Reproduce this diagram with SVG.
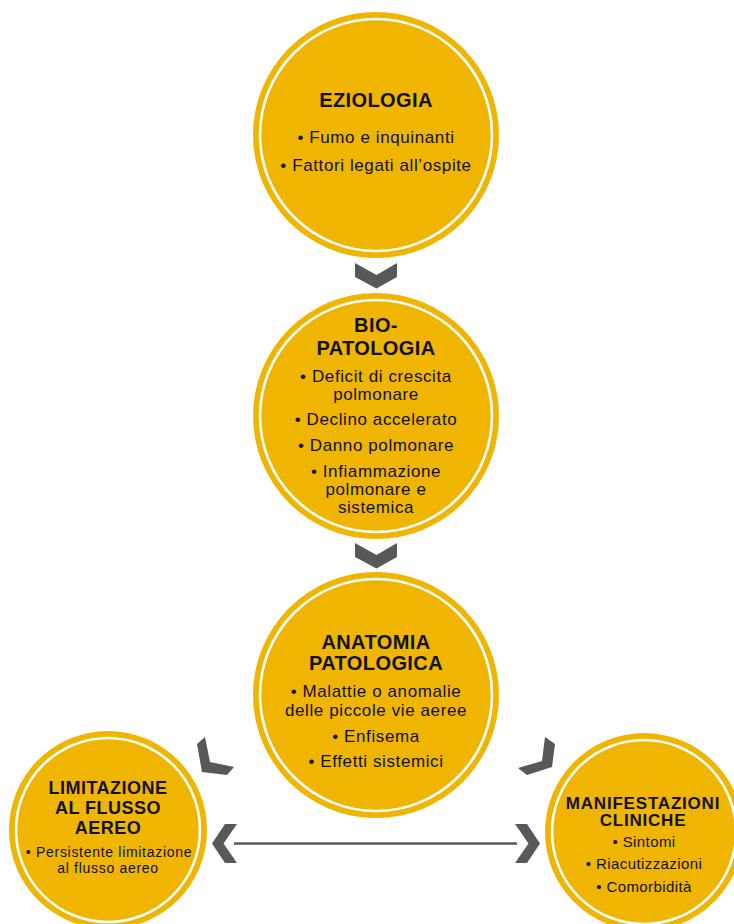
<svg xmlns="http://www.w3.org/2000/svg" width="734" height="924" viewBox="0 0 734 924">
<style>
.disc{fill:#EFB500}
.ring{fill:none;stroke:#FFFFFF;stroke-width:2.6}
.chev{fill:#58585A}
.line{stroke:#58585A;stroke-width:2.6;fill:none}
text{font-family:"Liberation Sans",Arial,Helvetica,sans-serif;fill:#111111;text-anchor:middle}
.t{font-size:20px;font-weight:bold;letter-spacing:0.4px}
.b{font-size:17px;letter-spacing:0.6px}
.ts{font-size:18px;font-weight:bold;letter-spacing:0.5px}
.tr{font-size:17px;font-weight:bold;letter-spacing:0.8px}
.bs{font-size:14px;letter-spacing:0.7px}
.br{font-size:15px;letter-spacing:0.4px}
</style>
<rect width="734" height="924" fill="#FFFFFF"/>
<g id="connectors">
<polygon class="chev" points="355,263 376.5,275 397,263 397,277 376.5,288.5 355,277"/>
<polygon class="chev" points="355,543 376.5,555 397,543 397,557 376.5,568.5 355,557"/>
<polygon class="chev" points="197,744 205,737 210,762 234,767 227,775 202,772"/>
<polygon class="chev" points="545,737 555,744 552,767 527,775 518,768 542,761"/>
<line class="line" x1="234" y1="843.5" x2="517" y2="843.5"/>
<polygon class="chev" points="212,843.5 225,824 237,824 223.5,843.5 237,863 225,863"/>
<polygon class="chev" points="540,843.5 527,824 515,824 528.5,843.5 515,863 527,863"/>
</g>
<g id="eziologia">
<circle class="disc" cx="376" cy="135" r="123"/>
<circle class="ring" cx="376" cy="135" r="116"/>
<text class="t" x="376" y="107">EZIOLOGIA</text>
<text class="b" x="376" y="143">• Fumo e inquinanti</text>
<text class="b" x="376" y="171">• Fattori legati all’ospite</text>
</g>
<g id="biopatologia">
<circle class="disc" cx="376" cy="416" r="123"/>
<circle class="ring" cx="376" cy="416" r="116"/>
<text class="t" x="376" y="332">BIO-</text>
<text class="t" x="376" y="355">PATOLOGIA</text>
<text class="b" x="376" y="382">• Deficit di crescita</text>
<text class="b" x="376" y="400">polmonare</text>
<text class="b" x="376" y="425">• Declino accelerato</text>
<text class="b" x="376" y="451">• Danno polmonare</text>
<text class="b" x="376" y="477">• Infiammazione</text>
<text class="b" x="376" y="495">polmonare e</text>
<text class="b" x="376" y="513">sistemica</text>
</g>
<g id="anatomia">
<circle class="disc" cx="376" cy="695" r="123"/>
<circle class="ring" cx="376" cy="695" r="116"/>
<text class="t" x="376" y="649">ANATOMIA</text>
<text class="t" x="376" y="670">PATOLOGICA</text>
<text class="b" x="376" y="697">• Malattie o anomalie</text>
<text class="b" x="376" y="716">delle piccole vie aeree</text>
<text class="b" x="376" y="742">• Enfisema</text>
<text class="b" x="376" y="767">• Effetti sistemici</text>
</g>
<g id="limitazione">
<circle class="disc" cx="108" cy="830" r="99"/>
<circle class="ring" cx="108" cy="830" r="92"/>
<text class="ts" x="108" y="794">LIMITAZIONE</text>
<text class="ts" x="108" y="814">AL FLUSSO</text>
<text class="ts" x="108" y="834">AEREO</text>
<text class="bs" x="109" y="857">• Persistente limitazione</text>
<text class="bs" x="108" y="873">al flusso aereo</text>
</g>
<g id="manifestazioni">
<circle class="disc" cx="644" cy="832" r="99"/>
<circle class="ring" cx="644" cy="832" r="92"/>
<text class="tr" x="643" y="808.5">MANIFESTAZIONI</text>
<text class="tr" x="643" y="826">CLINICHE</text>
<text class="br" x="644" y="847">• Sintomi</text>
<text class="br" x="644" y="869">• Riacutizzazioni</text>
<text class="br" x="644" y="892">• Comorbidità</text>
</g>
</svg>
